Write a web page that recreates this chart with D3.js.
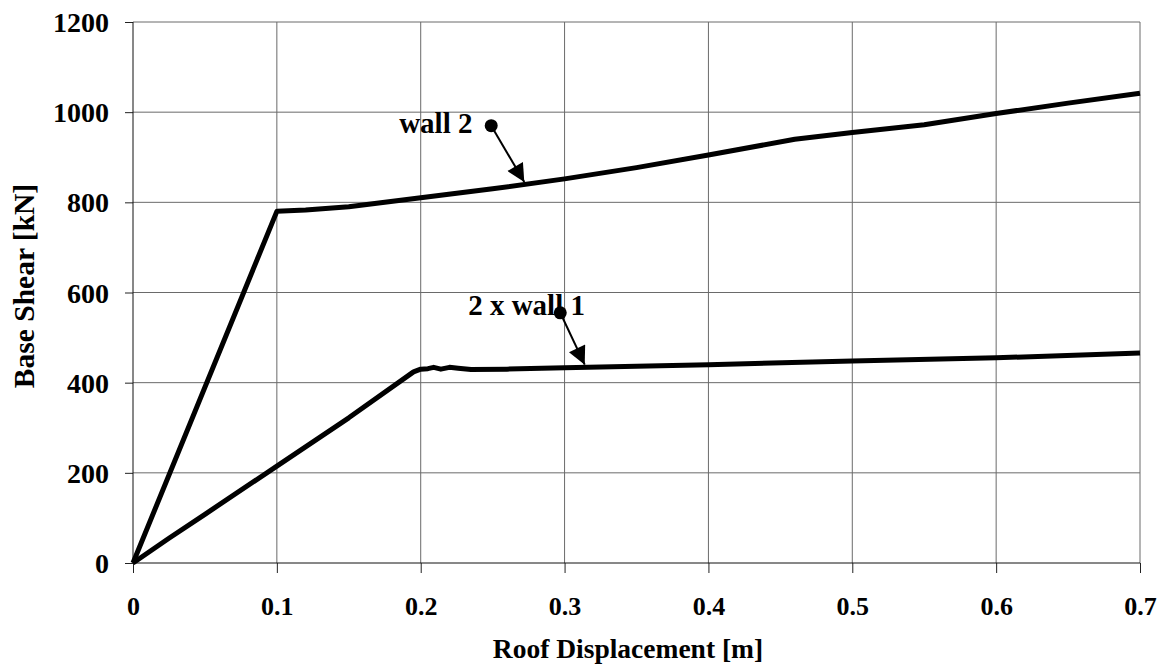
<!DOCTYPE html>
<html lang="en">
<head>
<meta charset="utf-8">
<title>Base Shear vs Roof Displacement</title>
<script src="https://d3js.org/d3.v7.min.js"></script>
<style>
  body { margin: 0; background: #fff; }
  svg text { font-family: "Liberation Serif", "Times New Roman", serif; font-weight: bold; fill: #000; }
</style>
</head>
<body>
<script>
// data
const wall2X = [0, 0.1, 0.12, 0.15, 0.2, 0.25, 0.3, 0.35, 0.4, 0.46, 0.5, 0.55, 0.6, 0.65, 0.7]
const wall2Y = [0, 780, 783, 790, 810, 830, 852, 877, 905, 940, 955, 972, 997, 1020, 1042]

const wall1X = [0, 0.025, 0.05, 0.1, 0.15, 0.195, 0.2, 0.205, 0.209, 0.214, 0.22, 0.226, 0.235, 0.26, 0.3, 0.4, 0.5, 0.6, 0.7]
const wall1Y = [0, 55, 108, 215, 322, 424, 430, 431, 434, 430, 434, 432, 429, 430, 433, 440, 448, 455, 466]

const xTicks = [0, 0.1, 0.2, 0.3, 0.4, 0.5, 0.6, 0.7]
const yTicks = [0, 200, 400, 600, 800, 1000, 1200]

// label start, dot, arrow tip (data units)
const notes = [
  { label: "wall 2", at: [0.185, 954], dot: [0.249, 970], tip: [0.272, 845] },
  { label: "2 x wall 1", at: [0.233, 550], dot: [0.297, 555], tip: [0.314, 440] }
]

const size = { width: 1160, height: 669, left: 133, right: 1140, top: 22, bottom: 563 }

const svg = d3.select("body").append("svg")
  .attr("width", size.width)
  .attr("height", size.height)

const x = d3.scaleLinear().domain([0, 0.7]).range([size.left, size.right])
const y = d3.scaleLinear().domain([0, 1200]).range([size.bottom, size.top])

// grid
svg.append("g").selectAll("line").data(xTicks.slice(1)).join("line")
  .attr("x1", d => x(d)).attr("x2", d => x(d))
  .attr("y1", size.top).attr("y2", size.bottom)
  .attr("stroke", "#6a6a6a").attr("stroke-width", 1)
svg.append("g").selectAll("line").data(yTicks.slice(1)).join("line")
  .attr("x1", size.left).attr("x2", size.right)
  .attr("y1", d => y(d)).attr("y2", d => y(d))
  .attr("stroke", "#6a6a6a").attr("stroke-width", 1)

// axes
const xAxis = d3.axisBottom(x).tickValues(xTicks).tickSize(10).tickPadding(24)
  .tickFormat(d => d === 0 ? "0" : d3.format(".1f")(d))
const yAxis = d3.axisLeft(y).tickValues(yTicks).tickSize(8).tickPadding(16)
  .tickFormat(d3.format("d"))

const gx = svg.append("g").attr("transform", `translate(0,${size.bottom})`).call(xAxis)
const gy = svg.append("g").attr("transform", `translate(${size.left},0)`).call(yAxis)
for (const g of [gx, gy]) {
  g.select(".domain").remove()
  g.selectAll("line").attr("stroke", "#222")
  g.selectAll("text").style("font-family", "Liberation Serif").style("font-weight", "bold")
}
gx.selectAll("text").attr("dy", "0.71em").style("font-size", "26px")
gy.selectAll("text").attr("dy", "0.34em").style("font-size", "28px")

svg.append("line").attr("x1", size.left).attr("x2", size.left)
  .attr("y1", size.top).attr("y2", size.bottom).attr("stroke", "#111")
svg.append("line").attr("x1", size.left).attr("x2", size.right)
  .attr("y1", size.bottom).attr("y2", size.bottom).attr("stroke", "#111")

// curves
const line = d3.line().x(d => x(d[0])).y(d => y(d[1]))
const series = [d3.zip(wall2X, wall2Y), d3.zip(wall1X, wall1Y)]
svg.append("g").selectAll("path").data(series).join("path")
  .attr("d", line)
  .attr("fill", "none")
  .attr("stroke", "#000")
  .attr("stroke-width", 5)
  .attr("stroke-linejoin", "round")

// annotations
svg.append("defs").append("marker")
  .attr("id", "head").attr("viewBox", "0 0 10 10")
  .attr("refX", 10).attr("refY", 5)
  .attr("markerWidth", 20).attr("markerHeight", 18)
  .attr("markerUnits", "userSpaceOnUse")
  .attr("orient", "auto")
  .append("path").attr("d", "M0,0L10,5L0,10z").attr("fill", "#000")

notes.forEach(n => {
  svg.append("text")
    .attr("x", x(n.at[0])).attr("y", y(n.at[1]))
    .style("font-size", "29px")
    .text(n.label)
  svg.append("line")
    .attr("x1", x(n.dot[0])).attr("y1", y(n.dot[1]))
    .attr("x2", x(n.tip[0])).attr("y2", y(n.tip[1]))
    .attr("stroke", "#000").attr("stroke-width", 2)
    .attr("marker-end", "url(#head)")
  svg.append("circle")
    .attr("cx", x(n.dot[0])).attr("cy", y(n.dot[1])).attr("r", 6.5)
    .attr("fill", "#000")
})

// axis titles
svg.append("text")
  .attr("x", 628).attr("y", 658)
  .attr("text-anchor", "middle").style("font-size", "27.5px")
  .text("Roof Displacement [m]")
svg.append("text")
  .attr("transform", "translate(34,286) rotate(-90)")
  .attr("text-anchor", "middle").style("font-size", "29.5px")
  .text("Base Shear [kN]")
</script>
</body>
</html>
